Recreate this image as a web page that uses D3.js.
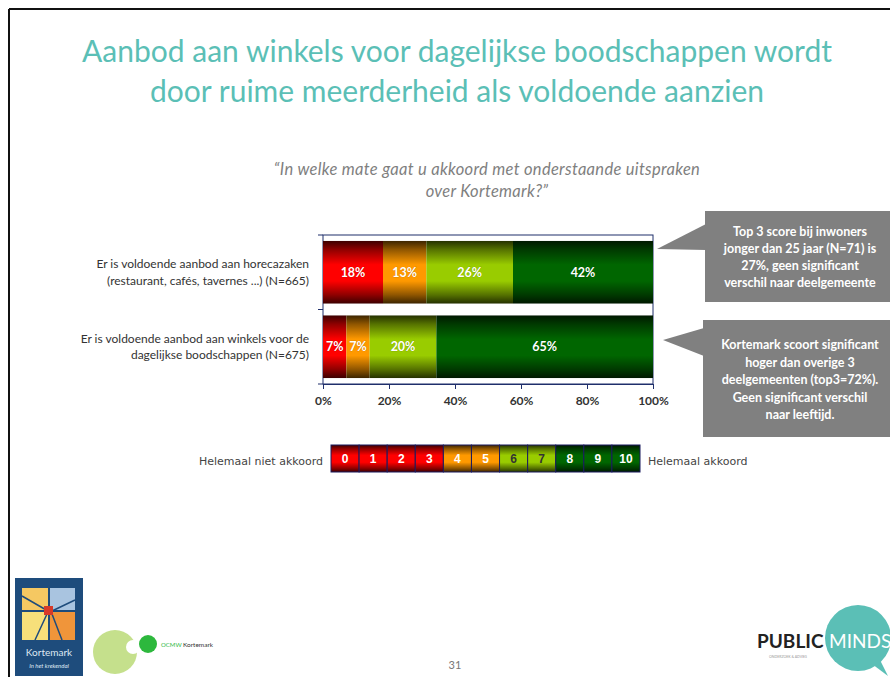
<!DOCTYPE html>
<html>
<head>
<meta charset="utf-8">
<script src="https://cdn.jsdelivr.net/npm/d3@7/dist/d3.min.js"></script>
<style>
  html, body { margin: 0; padding: 0; background: #fff; }
  svg { display: block; font-family: Lato, 'Open Sans', sans-serif; }
</style>
</head>
<body>
<svg id="chart" width="890" height="677"></svg>
<script>
  /* ---- Data ---- */
  const titleLines = [
    'Aanbod aan winkels voor dagelijkse boodschappen wordt',
    'door ruime meerderheid als voldoende aanzien'
  ];
  const subtitleLines = [
    '\u201CIn welke mate gaat u akkoord met onderstaande uitspraken',
    'over Kortemark?\u201D'
  ];
  const categories = ['horeca', 'winkels'];
  const categoryLabels = [
    ['Er is voldoende aanbod aan horecazaken', '(restaurant, caf\u00E9s, tavernes ...) (N=665)'],
    ['Er is voldoende aanbod aan winkels voor de', 'dagelijkse boodschappen (N=675)']
  ];
  const groups = ['0-3', '4-5', '6-7', '8-10'];
  const horecaValues = [18, 13, 26, 42];
  const winkelValues = [7, 7, 20, 65];
  const xTicks = [0, 0.2, 0.4, 0.6, 0.8, 1];
  const scaleLabels = ['0', '1', '2', '3', '4', '5', '6', '7', '8', '9', '10'];
  const scaleGroup = [0, 0, 0, 0, 1, 1, 2, 2, 3, 3, 3];
  const legendLeft = 'Helemaal niet akkoord';
  const legendRight = 'Helemaal akkoord';
  const notes = [
    ['Top 3 score bij inwoners', 'jonger dan 25 jaar (N=71) is', '27%, geen significant', 'verschil naar deelgemeente'],
    ['Kortemark scoort significant', 'hoger dan overige 3', 'deelgemeenten (top3=72%).', 'Geen significant verschil', 'naar leeftijd.']
  ];
  const pageNumber = '31';

  /* ---- Colours ---- */
  const GROUP_COLORS = ['#ff0000', '#ff9900', '#99cc00', '#006600'];
  const AXIS_COLOR = '#1f2f6b';
  const TEAL = '#5bbfb6';

  const svg = d3.select('#chart');
  const defs = svg.append('defs');

  // vertical "tube" gradient per colour: dark edges, bright middle
  GROUP_COLORS.forEach((c, i) => {
    const g = defs.append('linearGradient')
      .attr('id', 'grad' + i)
      .attr('x1', 0).attr('y1', 0).attr('x2', 0).attr('y2', 1);
    const dark = d3.color(c).darker(4).formatHex();
    const mid = d3.color(c).darker(1.6).formatHex();
    [[0, dark], [0.14, mid], [0.38, c], [0.64, c], [0.86, mid], [1, dark]].forEach(([o, col]) => {
      g.append('stop').attr('offset', o).attr('stop-color', col);
    });
  });

  /* ---- Frame ---- */
  svg.append('line').attr('x1', 9).attr('y1', 9).attr('x2', 890).attr('y2', 9)
    .attr('stroke', '#111').attr('stroke-width', 2);
  svg.append('line').attr('x1', 9).attr('y1', 9).attr('x2', 9).attr('y2', 677)
    .attr('stroke', '#111').attr('stroke-width', 2);

  /* ---- Title ---- */
  svg.append('g').selectAll('text')
    .data(titleLines)
    .join('text')
    .attr('x', 457)
    .attr('y', (d, i) => 62 + i * 40)
    .attr('text-anchor', 'middle')
    .attr('font-size', 30)
    .attr('fill', TEAL)
    .text(d => d);

  svg.append('g').selectAll('text')
    .data(subtitleLines)
    .join('text')
    .attr('x', 487)
    .attr('y', (d, i) => 175 + i * 22)
    .attr('text-anchor', 'middle')
    .attr('font-size', 16.5)
    .attr('letter-spacing', 0.3)
    .attr('font-style', 'italic')
    .attr('fill', '#7f7f7f')
    .text(d => d);

  /* ---- Scales ---- */
  const x = d3.scaleLinear().domain([0, 1]).range([323, 653]);
  const y = d3.scaleBand().domain(categories).range([235, 384])
    .paddingInner(0.16).paddingOuter(0.08);

  const rows = categories.map((c, i) => {
    const vals = i === 0 ? horecaValues : winkelValues;
    const o = { cat: c };
    groups.forEach((g, j) => { o[g] = vals[j]; });
    return o;
  });
  const series = d3.stack().keys(groups).offset(d3.stackOffsetExpand)(rows);

  /* ---- Plot box ---- */
  svg.append('rect')
    .attr('x', x(0)).attr('y', 235)
    .attr('width', x(1) - x(0)).attr('height', 384 - 235)
    .attr('fill', '#fff').attr('stroke', AXIS_COLOR).attr('stroke-width', 1);

  /* ---- Bars ---- */
  const barG = svg.append('g');
  series.forEach((s, gi) => {
    barG.append('g').selectAll('rect')
      .data(s)
      .join('rect')
      .attr('x', d => x(d[0]))
      .attr('y', d => y(d.data.cat))
      .attr('width', d => x(d[1]) - x(d[0]))
      .attr('height', y.bandwidth())
      .attr('fill', `url(#grad${gi})`);
  });

  // value labels
  series.forEach((s, gi) => {
    barG.append('g').selectAll('text')
      .data(s)
      .join('text')
      .attr('x', d => (x(d[0]) + x(d[1])) / 2)
      .attr('y', d => y(d.data.cat) + y.bandwidth() / 2 + 4.5)
      .attr('text-anchor', 'middle')
      .attr('font-size', 12.5)
      .attr('font-weight', 'bold')
      .attr('fill', '#fff')
      .attr('stroke', 'rgba(0,0,0,0.25)')
      .attr('stroke-width', 0.6)
      .attr('paint-order', 'stroke')
      .text(d => d.data[s.key] + '%');
  });

  /* ---- Axes ---- */
  const xAxis = svg.append('g')
    .attr('transform', 'translate(0,384)')
    .call(d3.axisBottom(x).tickValues(xTicks).tickFormat(d3.format('.0%')).tickSize(5).tickSizeOuter(5));
  xAxis.select('.domain').attr('stroke', AXIS_COLOR);
  xAxis.selectAll('.tick line').attr('stroke', AXIS_COLOR);
  xAxis.selectAll('.tick text')
    .attr('font-family', 'Lato, sans-serif')
    .attr('font-size', 12)
    .attr('font-weight', 'bold')
    .attr('fill', '#333')
    .attr('dy', '1.05em');

  // category separators on the left axis
  const sepY = [235, (y(categories[0]) + y.bandwidth() + y(categories[1])) / 2, 384];
  svg.append('g').selectAll('line')
    .data(sepY)
    .join('line')
    .attr('x1', x(0) - 5).attr('x2', x(0))
    .attr('y1', d => d).attr('y2', d => d)
    .attr('stroke', AXIS_COLOR);

  // category labels
  const catG = svg.append('g');
  categories.forEach((c, i) => {
    catG.append('g').selectAll('text')
      .data(categoryLabels[i])
      .join('text')
      .attr('x', 309)
      .attr('y', (d, k) => y(c) + y.bandwidth() / 2 - 4 + k * 16.5)
      .attr('text-anchor', 'end')
      .attr('font-size', 12)
      .attr('fill', '#333')
      .text(d => d);
  });

  /* ---- Callouts ---- */
  const callouts = [
    { box: [705, 211, 190, 91], tip: [657, 249], base: [224, 250], top: 236, lh: 17 },
    { box: [703, 320, 192, 117], tip: [663, 340], base: [328, 356], top: 349, lh: 17.5 }
  ];
  callouts.forEach((c, i) => {
    const [bx, by, bw, bh] = c.box;
    const g = svg.append('g');
    g.append('rect').attr('x', bx).attr('y', by).attr('width', bw).attr('height', bh)
      .attr('fill', '#808080');
    g.append('path')
      .attr('d', `M${bx + 1},${c.base[0]} L${c.tip[0]},${c.tip[1]} L${bx + 1},${c.base[1]} Z`)
      .attr('fill', '#808080');
    g.selectAll('text')
      .data(notes[i])
      .join('text')
      .attr('x', 800)
      .attr('y', (d, k) => c.top + k * c.lh)
      .attr('text-anchor', 'middle')
      .attr('font-size', 12.5)
      .attr('font-weight', 'bold')
      .attr('fill', '#fff')
      .text(d => d);
  });

  /* ---- Legend ---- */
  const lx = d3.scaleBand().domain(scaleLabels).range([331, 640]);
  const legG = svg.append('g');
  legG.selectAll('rect')
    .data(scaleLabels)
    .join('rect')
    .attr('x', d => lx(d))
    .attr('y', 445)
    .attr('width', lx.bandwidth())
    .attr('height', 27)
    .attr('fill', (d, i) => `url(#grad${scaleGroup[i]})`)
    .attr('stroke', '#1a1a5e')
    .attr('stroke-width', 1);
  legG.selectAll('text')
    .data(scaleLabels)
    .join('text')
    .attr('x', d => lx(d) + lx.bandwidth() / 2)
    .attr('y', 463)
    .attr('text-anchor', 'middle')
    .attr('font-family', "'Liberation Sans', Arial, sans-serif")
    .attr('font-size', 12)
    .attr('font-weight', 'bold')
    .attr('fill', (d, i) => scaleGroup[i] === 2 ? '#333' : '#fff')
    .text(d => d);
  legG.append('text').attr('x', 323).attr('y', 465).attr('text-anchor', 'end')
    .attr('font-family', "'DejaVu Sans', sans-serif")
    .attr('font-size', 11).attr('fill', '#444').text(legendLeft);
  legG.append('text').attr('x', 648).attr('y', 465)
    .attr('font-family', "'DejaVu Sans', sans-serif")
    .attr('font-size', 11).attr('fill', '#444').text(legendRight);

  /* ---- Footer logos (simple drawings) ---- */
  const foot = svg.append('g');
  // Kortemark
  foot.append('rect').attr('x', 15).attr('y', 578).attr('width', 68).attr('height', 98).attr('fill', '#1e4c7c');
  const panes = [
    [22, 588, 26, 22, '#f5c862'], [50, 588, 25, 22, '#a9c4e0'],
    [22, 612, 26, 28, '#f7e07a'], [50, 612, 25, 28, '#f0953a']
  ];
  panes.forEach(p => foot.append('rect').attr('x', p[0]).attr('y', p[1]).attr('width', p[2]).attr('height', p[3]).attr('fill', p[4]));
  foot.append('path').attr('d', 'M22,596 L48,611 M75,600 L52,611 M35,640 L47,614 M62,640 L52,614')
    .attr('stroke', '#1e4c7c').attr('stroke-width', 1.5);
  foot.append('rect').attr('x', 44).attr('y', 606).attr('width', 9).attr('height', 9).attr('fill', '#d63a2a');
  foot.append('text').attr('x', 49).attr('y', 656).attr('text-anchor', 'middle')
    .attr('font-size', 10).attr('fill', '#dfe8f2').text('Kortemark');
  foot.append('text').attr('x', 49).attr('y', 668).attr('text-anchor', 'middle')
    .attr('font-size', 6).attr('font-style', 'italic').attr('fill', '#dfe8f2').text('In het krekendal');
  // OCMW
  foot.append('circle').attr('cx', 115).attr('cy', 652).attr('r', 22).attr('fill', '#c5e08c');
  foot.append('circle').attr('cx', 133).attr('cy', 647).attr('r', 7).attr('fill', '#fff');
  foot.append('circle').attr('cx', 148).attr('cy', 644).attr('r', 9).attr('fill', '#2db83d');
  foot.append('text').attr('x', 161).attr('y', 647).attr('font-size', 6).attr('fill', '#2db83d').text('OCMW');
  foot.append('text').attr('x', 183).attr('y', 647).attr('font-size', 6.5).attr('fill', '#333').text('Kortemark');
  // Public Minds
  foot.append('circle').attr('cx', 858).attr('cy', 638).attr('r', 33).attr('fill', '#5bbfb6');
  foot.append('path').attr('d', 'M872,664 L888,676 L880,660 Z').attr('fill', '#5bbfb6');
  foot.append('text').attr('x', 757).attr('y', 648).attr('font-size', 19).attr('font-weight', 'bold')
    .attr('fill', '#222').text('PUBLIC');
  foot.append('text').attr('x', 829).attr('y', 648).attr('font-size', 19)
    .attr('fill', '#fff').text('MINDS');
  foot.append('text').attr('x', 788).attr('y', 658).attr('text-anchor', 'middle').attr('font-size', 3.5)
    .attr('fill', '#999').text('ONDERZOEK & ADVIES');
  // page number
  svg.append('text').attr('x', 455).attr('y', 669).attr('text-anchor', 'middle')
    .attr('font-size', 11).attr('fill', '#777').text(pageNumber);
</script>
</body>
</html>
